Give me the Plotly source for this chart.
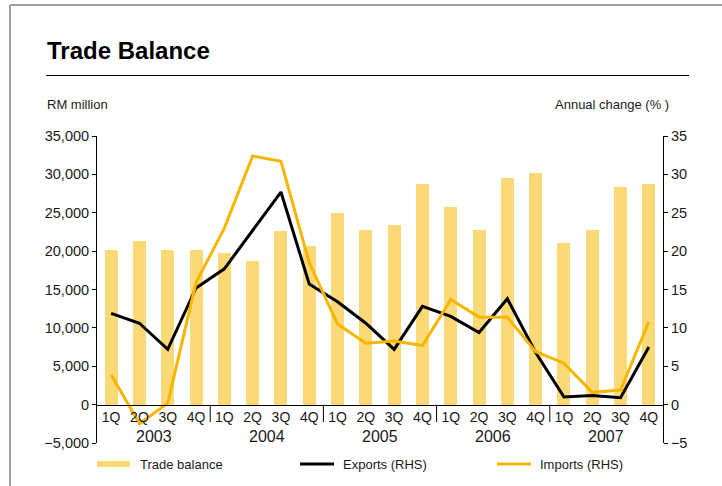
import plotly.graph_objects as go

# ---- data ----
quarters = ["1Q", "2Q", "3Q", "4Q"] * 5
years = ["2003", "2004", "2005", "2006", "2007"]
trade_balance = [20200, 21300, 20200, 20100, 19800, 18700, 22600, 20700, 25000, 22800,
                 23350, 28700, 25800, 22800, 29500, 30200, 21100, 22700, 28400, 28700]
exports_rhs = [11.9, 10.6, 7.2, 15.2, 17.7, 22.7, 27.7, 15.7, 13.4, 10.6,
               7.2, 12.8, 11.5, 9.4, 13.8, 6.8, 1.0, 1.2, 0.9, 7.5]
imports_rhs = [3.9, -2.5, 0.2, 15.9, 23.0, 32.4, 31.7, 18.5, 10.5, 8.0,
               8.3, 7.7, 13.7, 11.4, 11.4, 6.9, 5.4, 1.6, 1.9, 10.8]
left_ticks = [-5000, 0, 5000, 10000, 15000, 20000, 25000, 30000, 35000]
right_ticks = [-5, 0, 5, 10, 15, 20, 25, 30, 35]

BAR_C = "#FCD977"
IMP_C = "#F6B600"
FONT = "Liberation Sans, Arial, sans-serif"
TXT = "#1a1a1a"

# ---- geometry (pixels) ----
L, T, W, H = 97, 136, 566, 307
FW, FH = 722, 486


def px(x):
    return (x - L) / W


def py(y):
    return (T + H - y) / H


xs = list(range(len(quarters)))

fig = go.Figure()
fig.add_trace(go.Bar(x=xs, y=trade_balance, name="Trade balance", marker_color=BAR_C,
                     marker_line_width=0, width=0.46, showlegend=False))
fig.add_trace(go.Scatter(x=xs, y=exports_rhs, name="Exports (RHS)", mode="lines",
                         line=dict(color="#000000", width=3), yaxis="y2", showlegend=False))
fig.add_trace(go.Scatter(x=xs, y=imports_rhs, name="Imports (RHS)", mode="lines",
                         line=dict(color=IMP_C, width=3), yaxis="y2", showlegend=False))

shapes = []
annotations = []

# year dividers below the zero axis
zero_pos = 5000 / 40000
for b in [3.5, 7.5, 11.5, 15.5]:
    shapes.append(dict(type="line", xref="x", yref="paper", x0=b, x1=b,
                       y0=zero_pos, y1=py(422), line=dict(color="#000000", width=1)))
# year labels
for i, yr in enumerate(years):
    annotations.append(dict(x=i * 4 + 1.5, y=py(436), xref="x", yref="paper", text=yr,
                            showarrow=False, xanchor="center", yanchor="middle",
                            font=dict(family=FONT, size=16, color=TXT)))

# card border
shapes.append(dict(type="line", xref="paper", yref="paper", x0=px(10), x1=px(722),
                   y0=py(5), y1=py(5), line=dict(color="#a0a0a0", width=2)))
shapes.append(dict(type="line", xref="paper", yref="paper", x0=px(10), x1=px(10),
                   y0=py(5), y1=py(486), line=dict(color="#a0a0a0", width=2)))
# title rule
shapes.append(dict(type="line", xref="paper", yref="paper", x0=px(46), x1=px(689),
                   y0=py(75.5), y1=py(75.5), line=dict(color="#000000", width=1.2)))

annotations.append(dict(x=px(45), y=py(50), xref="paper", yref="paper",
                        text="<b>Trade Balance</b>", showarrow=False,
                        xanchor="left", yanchor="middle",
                        font=dict(family=FONT, size=24, color="#000000")))
annotations.append(dict(x=px(45), y=py(105), xref="paper", yref="paper",
                        text="RM million", showarrow=False, xanchor="left", yanchor="middle",
                        font=dict(family=FONT, size=13, color=TXT)))
annotations.append(dict(x=px(671), y=py(105), xref="paper", yref="paper",
                        text="Annual change (% )", showarrow=False, xanchor="right",
                        yanchor="middle", font=dict(family=FONT, size=13, color=TXT)))

# legend (drawn manually)
shapes.append(dict(type="rect", xref="paper", yref="paper", x0=px(97), x1=px(130),
                   y0=py(467), y1=py(461), line_width=0, fillcolor=BAR_C))
shapes.append(dict(type="line", xref="paper", yref="paper", x0=px(300), x1=px(334),
                   y0=py(464), y1=py(464), line=dict(color="#000000", width=3)))
shapes.append(dict(type="line", xref="paper", yref="paper", x0=px(497), x1=px(531),
                   y0=py(464), y1=py(464), line=dict(color=IMP_C, width=3)))
for xx, t in [(138, "Trade balance"), (341, "Exports (RHS)"), (538, "Imports (RHS)")]:
    annotations.append(dict(x=px(xx), y=py(464), xref="paper", yref="paper", text=t,
                            showarrow=False, xanchor="left", yanchor="middle",
                            font=dict(family=FONT, size=13, color=TXT)))

fig.update_layout(
    width=FW, height=FH,
    margin=dict(l=L, r=FW - L - W, t=T, b=FH - T - H, pad=0),
    paper_bgcolor="white", plot_bgcolor="white",
    font=dict(family=FONT, size=13, color=TXT),
    bargap=0,
    showlegend=False,
    xaxis=dict(range=[-0.5, 19.5], tickmode="array", tickvals=xs, ticktext=quarters,
               showgrid=False, zeroline=False, showline=True, linecolor="#000000",
               linewidth=1, ticks="", anchor="free", position=zero_pos,
               tickfont=dict(family=FONT, size=14, color=TXT), fixedrange=True),
    yaxis=dict(range=[-5000, 35000], tickmode="array", tickvals=left_ticks,
               tickformat=",", showgrid=False, zeroline=False, showline=True,
               linecolor="#000000", linewidth=1, ticks="outside", ticklen=4,
               tickcolor="#000000", tickfont=dict(family=FONT, size=14.5, color=TXT)),
    yaxis2=dict(range=[-5, 35], tickmode="array", tickvals=right_ticks, overlaying="y",
                side="right", showgrid=False, zeroline=False, showline=True,
                linecolor="#000000", linewidth=1, ticks="outside", ticklen=4,
                tickcolor="#000000", tickfont=dict(family=FONT, size=14.5, color=TXT)),
    shapes=shapes,
    annotations=annotations,
)

fig.write_html("out.html", config={"displayModeBar": False},
               post_script="document.body.style.margin='0px';document.body.style.overflow='hidden';")
